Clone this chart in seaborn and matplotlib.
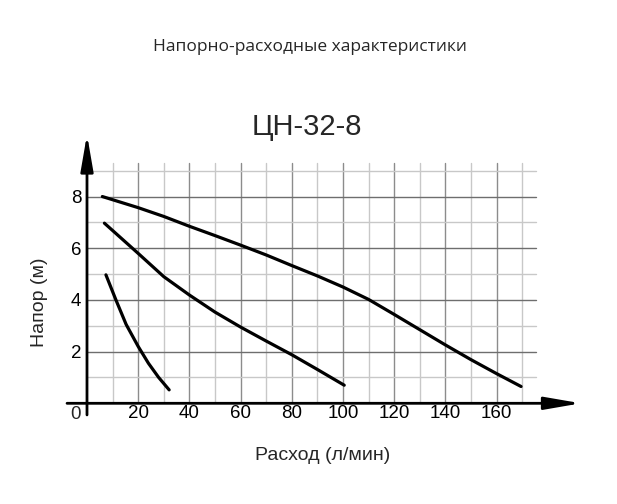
import numpy as np
import pandas as pd
import seaborn as sns
import matplotlib.pyplot as plt

# Curve data (flow l/min, head m)
flow_high = [6, 20, 30, 40, 50, 60, 70, 80, 90, 100, 110, 120, 130, 140, 150, 160, 169.6]
head_high = [8.0, 7.57, 7.23, 6.85, 6.49, 6.12, 5.74, 5.33, 4.93, 4.5, 4.02, 3.44, 2.85,
             2.26, 1.69, 1.15, 0.65]

flow_mid = [6.8, 20, 30, 40, 50, 60, 70, 80, 90, 100.5]
head_mid = [6.97, 5.8, 4.9, 4.19, 3.53, 2.95, 2.41, 1.88, 1.31, 0.7]

flow_low = [7.4, 11.3, 15.3, 20, 24, 28, 32.1]
head_low = [4.97, 4.0, 3.05, 2.2, 1.55, 1.0, 0.52]

x_ticks = [20, 40, 60, 80, 100, 120, 140, 160]
y_ticks = [2, 4, 6, 8]

df = pd.concat([
    pd.DataFrame({"flow": flow_high, "head": head_high, "curve": "high"}),
    pd.DataFrame({"flow": flow_mid, "head": head_mid, "curve": "mid"}),
    pd.DataFrame({"flow": flow_low, "head": head_low, "curve": "low"}),
])

sns.set_style("white")
plt.rcParams['font.family'] = ['Liberation Sans', 'DejaVu Sans']

fig = plt.figure(figsize=(6.17, 5.04), dpi=100)
ax = fig.add_axes([0.141, 0.1998, 0.8006, 0.5333])
ax.set_xlim(0, 193)
ax.set_ylim(0, 10.4)
for s in ax.spines.values():
    s.set_visible(False)

# grid
for gx in range(10, 180, 10):
    c = '#8c8c8c' if gx % 20 == 0 else '#c8c8c8'
    ax.plot([gx, gx], [0, 9.3], color=c, lw=1.0, zorder=1)
for gy in range(1, 10):
    c = '#6e6e6e' if gy % 2 == 0 else '#c8c8c8'
    ax.plot([0, 175.4], [gy, gy], color=c, lw=1.0, zorder=1)

sns.lineplot(data=df, x="flow", y="head", units="curve", estimator=None,
             sort=False, color='black', linewidth=2.3, ax=ax, zorder=3)

# axes with arrows
arrow = dict(arrowstyle='-|>,head_length=2.2,head_width=0.38', mutation_scale=10,
             color='black', lw=2, shrinkA=0, shrinkB=0)
ax.annotate('', xy=(193, 0), xytext=(-7.8, 0), arrowprops=arrow,
            annotation_clip=False, zorder=4)
ax.annotate('', xy=(0, 10.4), xytext=(0, -0.45), arrowprops=arrow,
            annotation_clip=False, zorder=4)

ax.set_xticks(x_ticks)
ax.set_xticklabels([str(v) for v in x_ticks])
ax.set_yticks(y_ticks)
ax.set_yticklabels([str(v) for v in y_ticks])
ax.tick_params(axis='both', length=0, labelsize=13.5, colors='black')
ax.tick_params(axis='x', pad=1)
ax.tick_params(axis='y', pad=4)
ax.text(-2.5, -0.1, '0', ha='right', va='top', fontsize=13.5)

ax.set_xlabel('')
ax.set_ylabel('')
fig.text(323 / 617, 1 - 456 / 504, 'Расход (л/мин)', ha='center', va='center', fontsize=14)
fig.text(40 / 617, 1 - 302 / 504, 'Напор (м)', ha='center', va='center',
         fontsize=14, rotation=90)

fig.text(310 / 617, 1 - 47 / 504, 'Напорно-расходные характеристики',
         ha='center', va='center', fontsize=12.5, family=['Open Sans', 'DejaVu Sans'])
fig.text(307 / 617, 1 - 127 / 504, 'ЦН-32-8', ha='center', va='center', fontsize=21)

fig.savefig('out.png', dpi=100)
